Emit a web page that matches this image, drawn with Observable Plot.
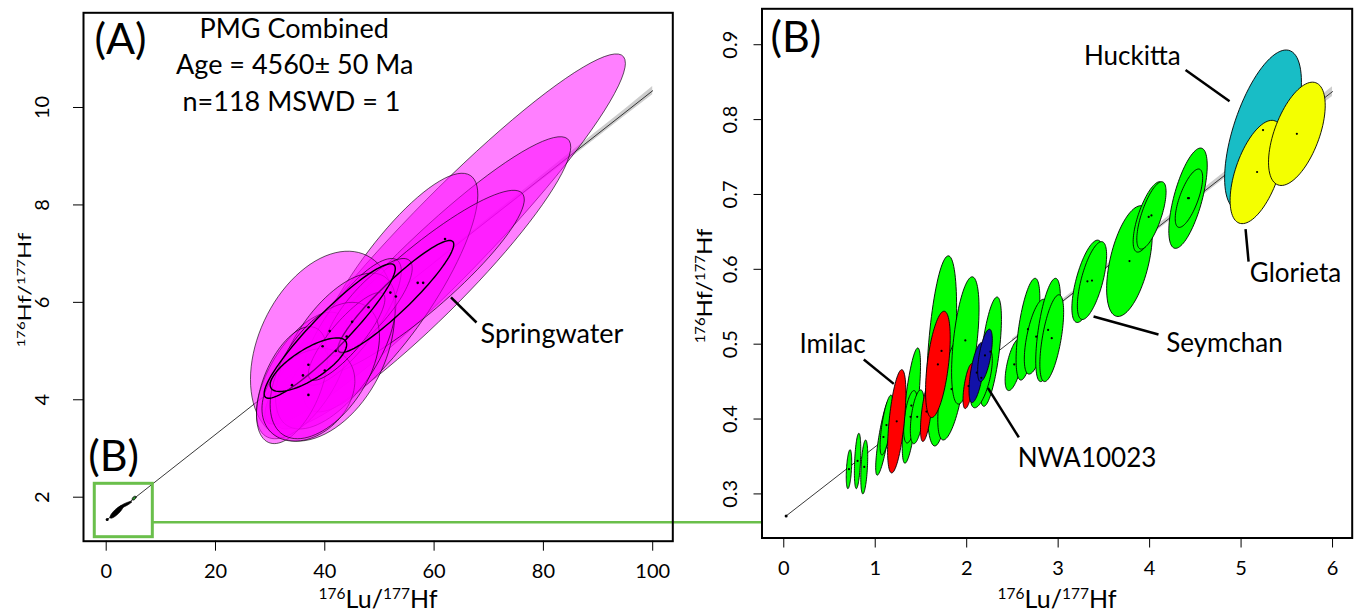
<!DOCTYPE html>
<html>
<head>
<meta charset="utf-8">
<script src="https://cdn.jsdelivr.net/npm/d3@7"></script>
<script src="https://cdn.jsdelivr.net/npm/@observablehq/plot@0.6"></script>
<style>
  body { margin: 0; background: white; }
  #wrap { position: relative; width: 1355px; height: 612px; background: white; overflow: hidden; font-family: Lato, sans-serif; }
  .pl { position: absolute; top: 0; }
  .t { position: absolute; white-space: nowrap; color: black; line-height: 1; }
  .t sup { font-size: 0.62em; vertical-align: 0.55em; line-height: 0; }
</style>
</head>
<body>
<div id="wrap">
  <div id="pa" class="pl" style="left:0"></div>
  <div id="pb" class="pl" style="left:700px"></div>
  <div class="t" style="left:378px;top:598px;font-size:25px;transform:translate(-50%,-50%)"><sup>176</sup>Lu/<sup>177</sup>Hf</div>
  <div class="t" style="left:1057px;top:598px;font-size:25px;transform:translate(-50%,-50%)"><sup>176</sup>Lu/<sup>177</sup>Hf</div>
  <div class="t" style="left:24px;top:290px;font-size:24px;transform:translate(-50%,-50%) rotate(-90deg) scale(1,0.75)"><sup>176</sup>Hf/<sup>177</sup>Hf</div>
  <div class="t" style="left:704px;top:286px;font-size:24px;transform:translate(-50%,-50%) rotate(-90deg) scale(1,0.85)"><sup>176</sup>Hf/<sup>177</sup>Hf</div>
</div>
<script>
// ---------------- Panel A data (Springwater, magenta) ----------------
const aCx  = [62, 58, 52, 57, 39.6, 36, 45, 42, 34, 48, 37, 40, 44, 53, 40.9, 37];
const aCy  = [7.3, 6.4, 6.2, 6.4, 5.1, 4.5, 5.6, 5.0, 4.3, 5.9, 4.1, 4.6, 5.3, 6.12, 5.41, 4.72];
const aRx  = [33, 27, 16, 19.5, 13.2, 8.5, 9, 11, 6.5, 8, 8.5, 10, 7, 10.6, 12, 7];
const aRy  = [3.8, 3.0, 2.45, 1.9, 1.95, 1.3, 1.3, 1.6, 1.2, 1.0, 0.95, 1.4, 0.9, 1.15, 1.38, 0.55];
const aRho = [0.95, 0.93, 0.82, 0.9, 0.35, 0.6, 0.8, 0.6, 0.5, 0.8, 0.3, 0.5, 0.85, 0.93, 0.93, 0.75];
// small ellipses of panel B as they appear in panel A
const aSmallCx  = [1.9, 3.4, 5.1];
const aSmallCy  = [1.70, 1.84, 1.98];
const aSmallRx  = [1.2, 1.2, 0.35];
const aSmallRy  = [0.13, 0.07, 0.04];
const aSmallRho = [0.85, 0.9, 0.5];
const aSmallKind = ["black", "black", "green"];
// isochron in A
const aLineX = [0.18, 100];
const aLineY = [1.54, 10.344];
const aEnvX  = [60, 75, 85, 95, 100];
const aEnvLo = [6.80, 8.10, 8.96, 9.83, 10.26];
const aEnvHi = [6.83, 8.18, 9.08, 9.97, 10.43];
const aXTicks = [0, 20, 40, 60, 80, 100];
const aYTicks = [2, 4, 6, 8, 10];
const aXDomain = [-4.154, 103.68];
const aYDomain = [1.0967, 11.944];
const aTextLines = ["PMG Combined", "Age = 4560\u00b1 50 Ma", "n=118 MSWD = 1"];
const aTextX = [34.4, 34.5, 33.9];
const aTextY = [11.60, 10.86, 10.11];
const aLabel = "Springwater";
const aLabelX = 81.57, aLabelY = 5.34;
const aLeadX1 = 63.09, aLeadY1 = 6.10, aLeadX2 = 67.76, aLeadY2 = 5.586;
const zoomBox = {x1: -2.09, x2: 8.53, y1: 1.179, y2: 2.275};
const connectorY = 1.487;

// ---------------- Panel B data ----------------
const bGroup = [
  "PMG","PMG","PMG","PMG","PMG","PMG","PMG","PMG","PMG","PMG","PMG","PMG","PMG",
  "PMG","PMG","PMG","PMG","PMG","PMG","PMG","PMG","PMG","PMG","PMG","PMG",
  "Imilac","Imilac","Imilac","Imilac","NWA10023","NWA10023","Huckitta","Glorieta","Glorieta"];
const bCx = [0.713, 0.807, 0.88, 1.09, 1.123, 1.395, 1.386, 1.459, 1.725, 1.834, 1.985, 2.26, 2.16,
  2.52, 2.67, 2.76, 2.89, 2.93, 3.32, 3.37, 3.78, 3.99, 4.02, 4.42, 4.43,
  1.235, 1.56, 1.685, 2.02, 2.11, 2.2, 5.24, 5.175, 5.61];
const bCy = [0.333, 0.344, 0.336, 0.376, 0.392, 0.418, 0.403, 0.403, 0.491, 0.44, 0.505, 0.49, 0.455,
  0.473, 0.52, 0.51, 0.519, 0.508, 0.584, 0.585, 0.611, 0.67, 0.672, 0.695, 0.695,
  0.397, 0.41, 0.473, 0.444, 0.462, 0.485, 0.786, 0.73, 0.781];
const bRx = [0.030, 0.035, 0.038, 0.085, 0.07, 0.10, 0.075, 0.075, 0.165, 0.15, 0.15, 0.12, 0.12,
  0.10, 0.13, 0.13, 0.135, 0.13, 0.17, 0.16, 0.25, 0.17, 0.16, 0.21, 0.15,
  0.10, 0.065, 0.135, 0.06, 0.085, 0.08, 0.42, 0.295, 0.31];
const bRy = [0.026, 0.037, 0.036, 0.051, 0.040, 0.077, 0.035, 0.036, 0.127, 0.068, 0.085, 0.073, 0.04,
  0.035, 0.068, 0.05, 0.069, 0.058, 0.055, 0.052, 0.074, 0.047, 0.045, 0.067, 0.039,
  0.069, 0.04, 0.071, 0.03, 0.04, 0.035, 0.107, 0.069, 0.069];
const bRho = [0.4, 0.4, 0.4, 0.8, 0.7, 0.7, 0.5, 0.5, 0.45, 0.6, 0.5, 0.6, 0.6,
  0.6, 0.6, 0.6, 0.6, 0.6, 0.65, 0.65, 0.5, 0.7, 0.7, 0.65, 0.7,
  0.55, 0.6, 0.5, 0.6, 0.6, 0.6, 0.6, 0.55, 0.55];
const bGroups = ["PMG", "Imilac", "NWA10023", "Huckitta", "Glorieta"];
const bColors = ["#00ff00", "#ff0000", "#1212a8", "#18bdc6", "#f4ff00"];
const bLineX = [0.026, 6.0];
const bLineY = [0.2706, 0.8374];
const bEnvX  = [2.5, 3.5, 4.5, 5.5, 6.0];
const bEnvLo = [0.503, 0.597, 0.691, 0.785, 0.831];
const bEnvHi = [0.507, 0.603, 0.699, 0.795, 0.844];
const bXTicks = [0, 1, 2, 3, 4, 5, 6];
const bYTicks = [0.3, 0.4, 0.5, 0.6, 0.7, 0.8, 0.9];
const bXDomain = [-0.238, 6.215];
const bYDomain = [0.2411, 0.948];
const bLabText = ["Huckitta", "Glorieta", "Seymchan", "Imilac", "NWA10023"];
const bLabX = [3.811, 5.595, 4.819, 0.533, 3.315];
const bLabY = [0.8835, 0.5944, 0.5009, 0.4995, 0.3472];
const bLeadX1 = [4.393, 5.049, 3.387, 0.875, 2.231];
const bLeadY1 = [0.8662, 0.6536, 0.5369, 0.4795, 0.4417];
const bLeadX2 = [4.874, 5.082, 4.097, 1.203, 2.570];
const bLeadY2 = [0.8244, 0.6104, 0.5129, 0.447, 0.3756];

// ---------------- helpers ----------------
function ellipse(cx, cy, rx, ry, rho, id, n = 90) {
  const s = Math.sqrt(1 - rho * rho);
  return d3.range(n).map(i => {
    const t = 2 * Math.PI * i / n;
    return {id, x: cx + rx * Math.cos(t), y: cy + ry * (rho * Math.cos(t) + s * Math.sin(t))};
  });
}
const font = "Lato, sans-serif";

// ---------------- Panel A ----------------
const wA = 762, mLA = 83, mRA = 89.7, mTA = 12.3, mBA = 71.3;
const aPts = aCx.flatMap((c, i) => ellipse(c, aCy[i], aRx[i], aRy[i], aRho[i], i));
const boldA = new Set([13, 14, 15]);
const aSmall = aSmallCx.map((c, i) => ({i, pts: ellipse(c, aSmallCy[i], aSmallRx[i], aSmallRy[i], aSmallRho[i], "s" + i)}));
const sxA = Plot.scale({x: {domain: aXDomain, range: [mLA, wA - mRA]}});
const connectorEnd = sxA.invert(wA);

const plotA = Plot.plot({
  width: wA, height: 612,
  marginLeft: mLA, marginRight: mRA, marginTop: mTA, marginBottom: mBA,
  x: {domain: aXDomain}, y: {domain: aYDomain},
  style: {background: "transparent", fontFamily: font, fontSize: "19px", color: "black", overflow: "visible"},
  marks: [
    Plot.areaY(aEnvX.map((x, i) => ({x, lo: aEnvLo[i], hi: aEnvHi[i]})), {x: "x", y1: "lo", y2: "hi", fill: "#b8b8b8", fillOpacity: 0.7}),
    Plot.line(aLineX.map((x, i) => ({x, y: aLineY[i]})), {x: "x", y: "y", stroke: "#222", strokeWidth: 0.9}),
    Plot.line(aPts.filter(d => !boldA.has(d.id)), {x: "x", y: "y", z: "id", curve: "linear-closed", fill: "#ff00ff", fillOpacity: 0.5, stroke: "#000", strokeOpacity: 0.7, strokeWidth: 0.9}),
    Plot.line(aPts.filter(d => boldA.has(d.id)), {x: "x", y: "y", z: "id", curve: "linear-closed", fill: "#ff00ff", fillOpacity: 0.45, stroke: "#000", strokeWidth: 1.4}),
    Plot.dot(aCx.map((c, i) => ({x: c, y: aCy[i]})), {x: "x", y: "y", r: 1.3, fill: "black", stroke: null}),
    ...aSmall.map(s => Plot.line(s.pts, {x: "x", y: "y", curve: "linear-closed", fill: aSmallKind[s.i] === "green" ? "#2e8b2e" : "black", stroke: "black", strokeWidth: 0.8})),
    Plot.dot([{x: aLineX[0], y: aLineY[0]}], {x: "x", y: "y", r: 1.5, fill: "black", stroke: null}),
    Plot.rect([zoomBox], {x1: "x1", x2: "x2", y1: "y1", y2: "y2", fill: "none", stroke: "#6abf4b", strokeWidth: 3}),
    Plot.ruleY([connectorY], {x1: zoomBox.x2, x2: connectorEnd, stroke: "#6abf4b", strokeWidth: 2.5}),
    Plot.text(aTextLines, {x: (d, i) => aTextX[i], y: (d, i) => aTextY[i], text: d => d, fontSize: 27, fontFamily: font, fill: "black"}),
    Plot.text(["(A)"], {x: [2.62], y: [11.376], text: d => d, fontSize: 43, fontFamily: font, fill: "black"}),
    Plot.text(["(B)"], {x: [1.34], y: [2.825], text: d => d, fontSize: 43, fontFamily: font, fill: "black"}),
    Plot.text([aLabel], {x: [aLabelX], y: [aLabelY], text: d => d, fontSize: 27, fontFamily: font, fill: "black"}),
    Plot.link([0], {x1: [aLeadX1], y1: [aLeadY1], x2: [aLeadX2], y2: [aLeadY2], stroke: "black", strokeWidth: 2.5}),
    Plot.axisX({ticks: aXTicks, tickFormat: d => String(d), tickSize: 10, tickPadding: 13, fontSize: 20, label: null}),
    Plot.axisY({ticks: aYTicks, tickFormat: d => String(d), tickSize: 10, tickRotate: -90, tickPadding: 25, fontSize: 20, label: null}),
    Plot.frame({stroke: "black", strokeWidth: 2})
  ]
});
document.getElementById("pa").appendChild(plotA);

// ---------------- Panel B ----------------
const bPts = bCx.map((c, i) => ({group: bGroup[i], pts: ellipse(c, bCy[i], bRx[i], bRy[i], bRho[i], i)}));
const plotB = Plot.plot({
  width: 655, height: 612,
  marginLeft: 61.5, marginRight: 3.3, marginTop: 8.3, marginBottom: 74.5,
  x: {domain: bXDomain}, y: {domain: bYDomain},
  style: {background: "transparent", fontFamily: font, fontSize: "19px", color: "black", overflow: "visible"},
  marks: [
    Plot.areaY(bEnvX.map((x, i) => ({x, lo: bEnvLo[i], hi: bEnvHi[i]})), {x: "x", y1: "lo", y2: "hi", fill: "#b8b8b8", fillOpacity: 0.7}),
    Plot.line(bLineX.map((x, i) => ({x, y: bLineY[i]})), {x: "x", y: "y", stroke: "#222", strokeWidth: 0.9}),
    Plot.dot([{x: bLineX[0], y: bLineY[0]}], {x: "x", y: "y", r: 1.5, fill: "black", stroke: null}),
    ...bGroups.map((g, gi) => Plot.line(bPts.filter(e => e.group === g).flatMap(e => e.pts),
      {x: "x", y: "y", z: "id", curve: "linear-closed", fill: bColors[gi], stroke: "black", strokeWidth: 0.9})),
    Plot.dot(bCx.map((c, i) => ({x: c, y: bCy[i]})), {x: "x", y: "y", r: 1.1, fill: "black", stroke: null}),
    Plot.link(bLabText, {x1: (d, i) => bLeadX1[i], y1: (d, i) => bLeadY1[i], x2: (d, i) => bLeadX2[i], y2: (d, i) => bLeadY2[i], stroke: "black", strokeWidth: 2.5}),
    Plot.text(bLabText, {x: (d, i) => bLabX[i], y: (d, i) => bLabY[i], text: d => d, fontSize: 26, fontFamily: font, fill: "black"}),
    Plot.text(["(B)"], {x: [0.133], y: [0.9085], text: d => d, fontSize: 43, fontFamily: font, fill: "black"}),
    Plot.axisX({ticks: bXTicks, tickFormat: d => String(d), tickSize: 10, tickPadding: 13, fontSize: 20, label: null}),
    Plot.axisY({ticks: bYTicks, tickFormat: d => d.toFixed(1), tickSize: 8, tickRotate: -90, tickPadding: 17, fontSize: 20, label: null}),
    Plot.frame({stroke: "black", strokeWidth: 2})
  ]
});
document.getElementById("pb").appendChild(plotB);
</script>
</body>
</html>
